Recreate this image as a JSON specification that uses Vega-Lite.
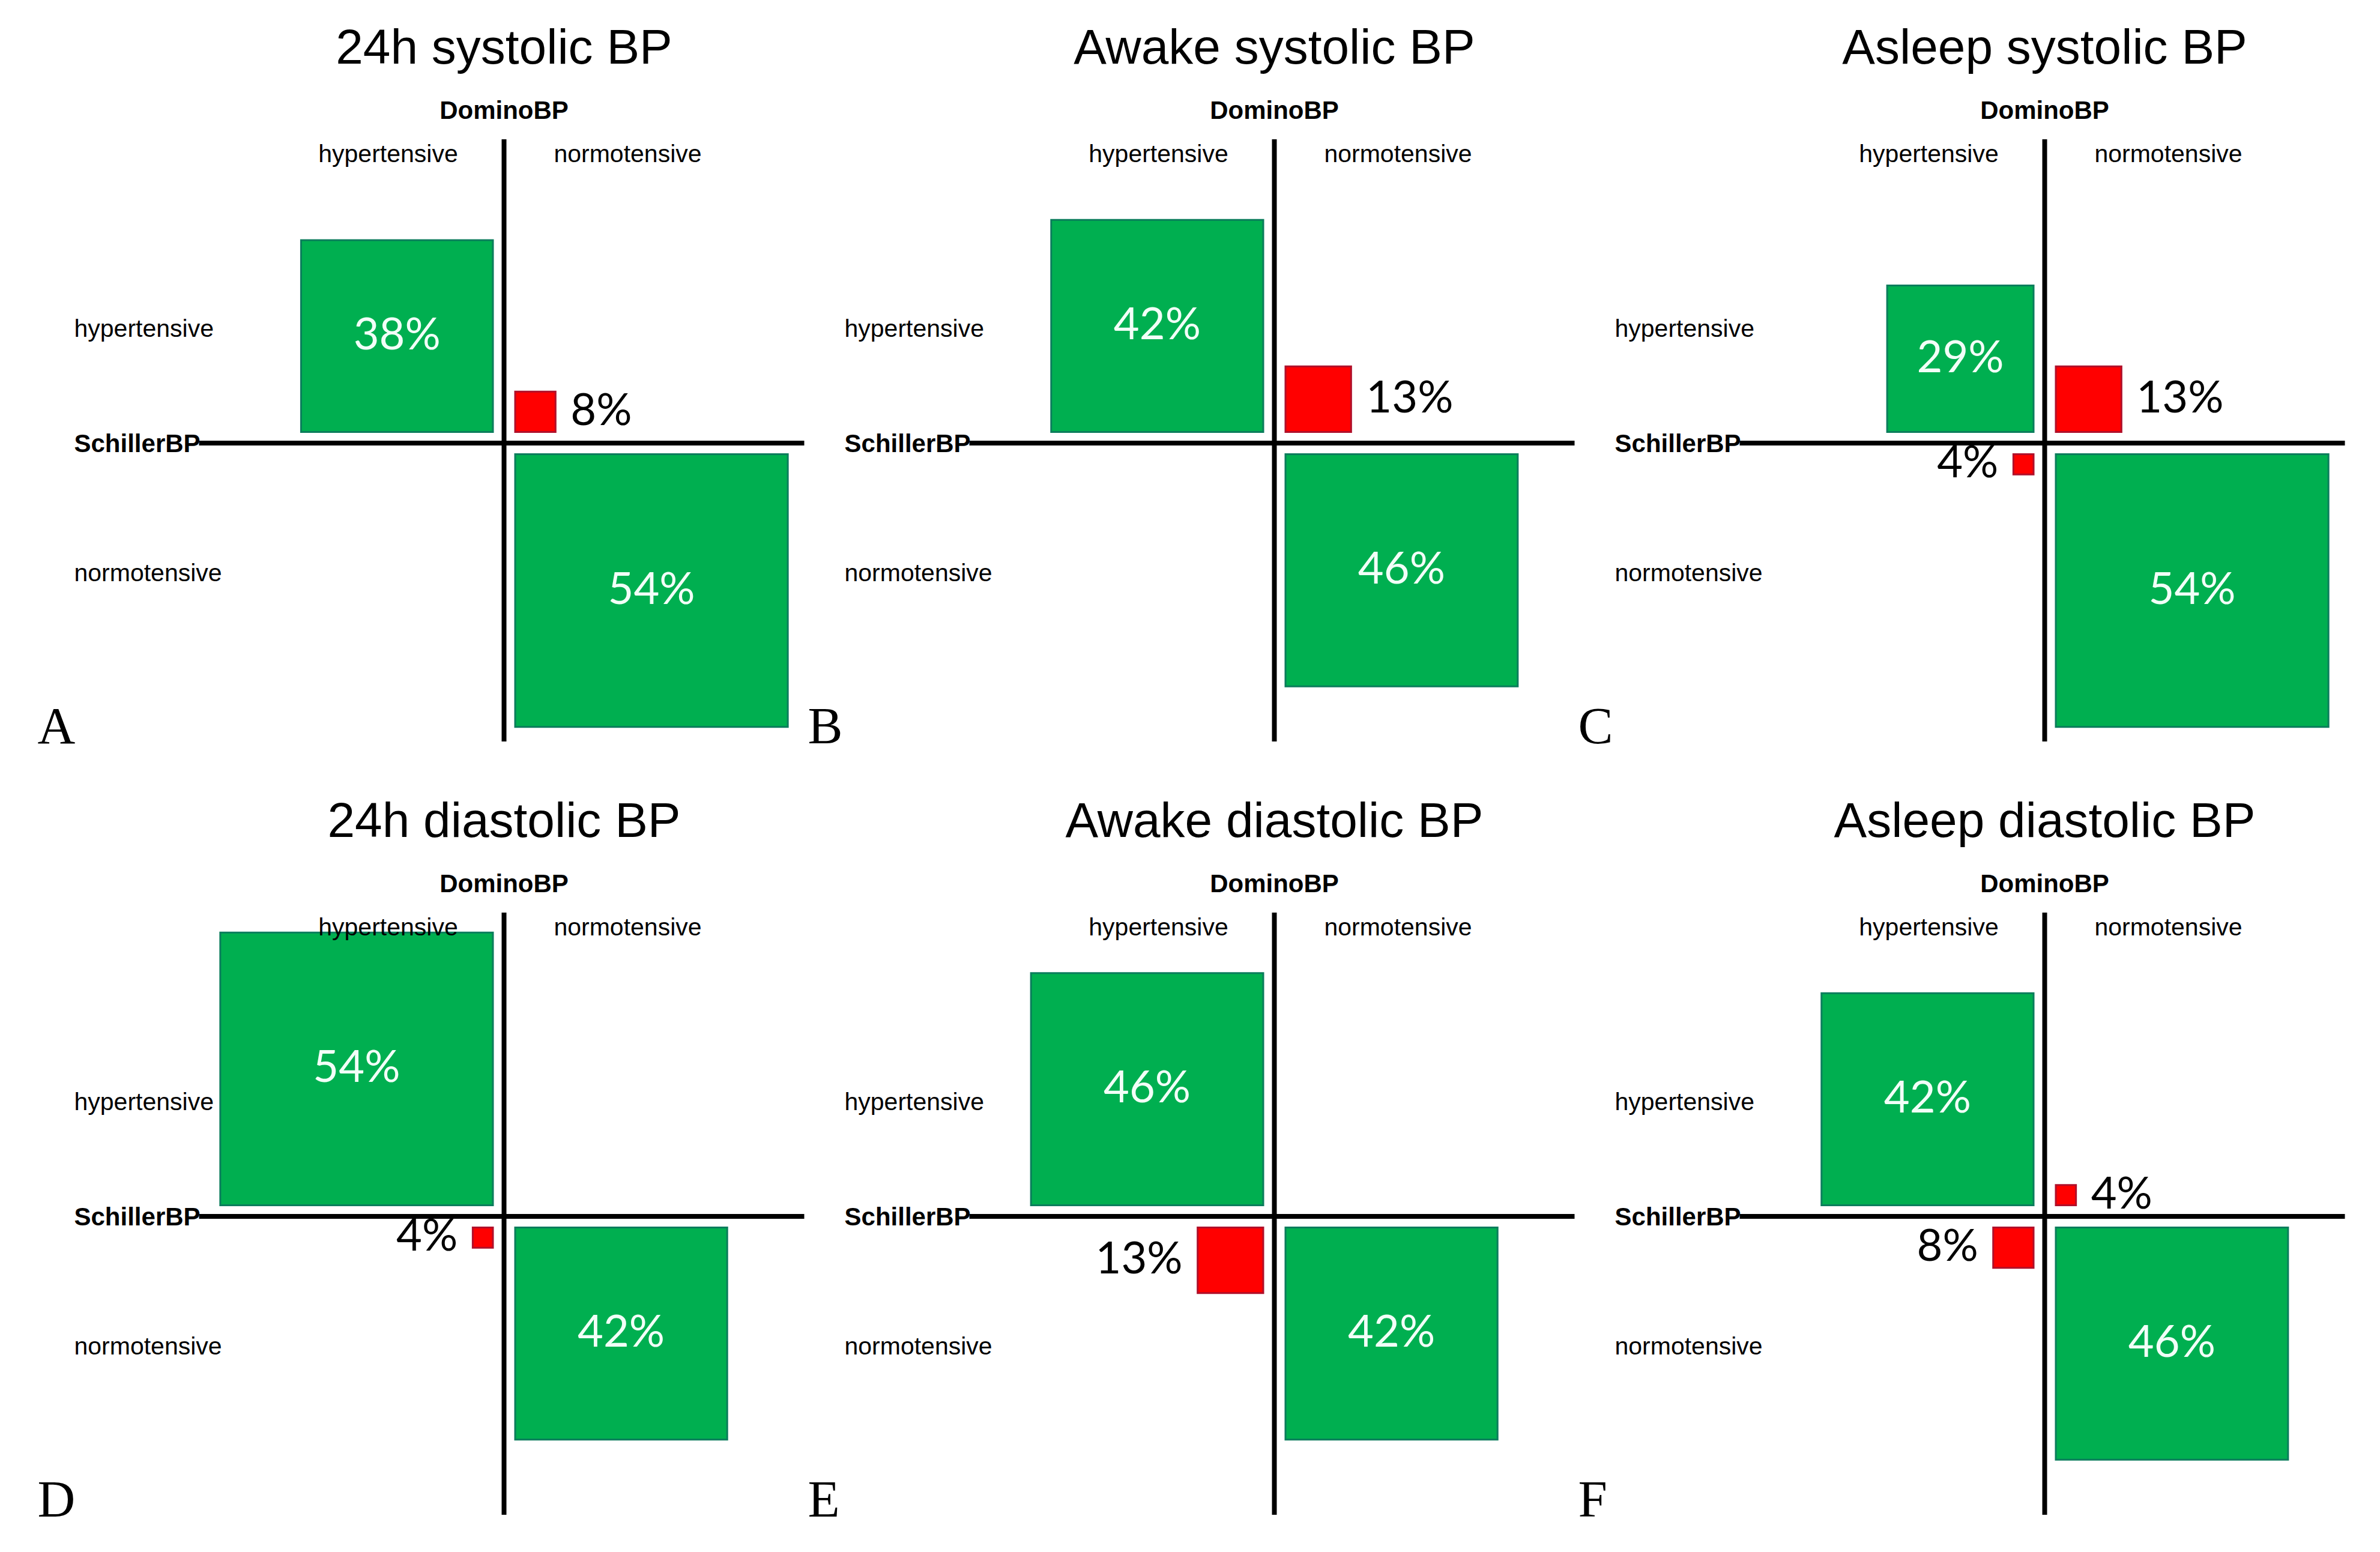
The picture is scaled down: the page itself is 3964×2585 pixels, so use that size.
{
  "$schema": "https://vega.github.io/schema/vega-lite/v6.json",
  "padding": {"left": 62, "top": 40, "right": 0, "bottom": 0},
  "bounds": "flush",
  "config": {"view": {"stroke": null}},
  "data": {"values": [
    {"panel": "A", "title": "24h systolic BP", "domino": "hypertensive", "schiller": "hypertensive", "share": 0.38},
    {"panel": "A", "title": "24h systolic BP", "domino": "normotensive", "schiller": "hypertensive", "share": 0.08},
    {"panel": "A", "title": "24h systolic BP", "domino": "normotensive", "schiller": "normotensive", "share": 0.54},
    {"panel": "B", "title": "Awake systolic BP", "domino": "hypertensive", "schiller": "hypertensive", "share": 0.42},
    {"panel": "B", "title": "Awake systolic BP", "domino": "normotensive", "schiller": "hypertensive", "share": 0.13},
    {"panel": "B", "title": "Awake systolic BP", "domino": "normotensive", "schiller": "normotensive", "share": 0.46},
    {"panel": "C", "title": "Asleep systolic BP", "domino": "hypertensive", "schiller": "hypertensive", "share": 0.29},
    {"panel": "C", "title": "Asleep systolic BP", "domino": "normotensive", "schiller": "hypertensive", "share": 0.13},
    {"panel": "C", "title": "Asleep systolic BP", "domino": "hypertensive", "schiller": "normotensive", "share": 0.04},
    {"panel": "C", "title": "Asleep systolic BP", "domino": "normotensive", "schiller": "normotensive", "share": 0.54},
    {"panel": "D", "title": "24h diastolic BP", "domino": "hypertensive", "schiller": "hypertensive", "share": 0.54},
    {"panel": "D", "title": "24h diastolic BP", "domino": "hypertensive", "schiller": "normotensive", "share": 0.04},
    {"panel": "D", "title": "24h diastolic BP", "domino": "normotensive", "schiller": "normotensive", "share": 0.42},
    {"panel": "E", "title": "Awake diastolic BP", "domino": "hypertensive", "schiller": "hypertensive", "share": 0.46},
    {"panel": "E", "title": "Awake diastolic BP", "domino": "hypertensive", "schiller": "normotensive", "share": 0.13},
    {"panel": "E", "title": "Awake diastolic BP", "domino": "normotensive", "schiller": "normotensive", "share": 0.42},
    {"panel": "F", "title": "Asleep diastolic BP", "domino": "hypertensive", "schiller": "hypertensive", "share": 0.42},
    {"panel": "F", "title": "Asleep diastolic BP", "domino": "normotensive", "schiller": "hypertensive", "share": 0.04},
    {"panel": "F", "title": "Asleep diastolic BP", "domino": "hypertensive", "schiller": "normotensive", "share": 0.08},
    {"panel": "F", "title": "Asleep diastolic BP", "domino": "normotensive", "schiller": "normotensive", "share": 0.46}
  ]},
  "facet": {
    "field": "title", "type": "nominal",
    "sort": ["24h systolic BP", "Awake systolic BP", "Asleep systolic BP", "24h diastolic BP", "Awake diastolic BP", "Asleep diastolic BP"],
    "header": {"title": null, "labelFont": "Liberation Sans", "labelFontSize": 82, "labelColor": "#000000", "labelPadding": 10, "labelAnchor": "middle", "labelOrient": "top", "labelLimit": 0}
  },
  "columns": 3,
  "spacing": {"column": 0.01, "row": 138},
  "spec": {
    "width": 1283,
    "height": 1150,
    "resolve": {"scale": {"x": "independent", "y": "independent"}},
    "layer": [
      {
        "transform": [{"filter": "datum.domino === 'hypertensive' && datum.schiller === 'hypertensive'"}],
        "mark": {"type": "rect", "color": "#00AF50", "stroke": "#0B7D5C", "strokeWidth": 3},
        "encoding": {
          "x": {"field": "share", "type": "quantitative", "scale": {"domain": [-0.78478, 0.74078], "reverse": true, "nice": false, "zero": false}, "axis": null},
          "x2": {"datum": 0},
          "y": {"field": "share", "type": "quantitative", "scale": {"domain": [-0.67004, 0.69738], "nice": false, "zero": false}, "axis": null},
          "y2": {"datum": 0}
        }
      },
      {
        "transform": [{"filter": "datum.domino === 'normotensive' && datum.schiller === 'hypertensive'"}],
        "mark": {"type": "rect", "color": "#FF0000", "stroke": "#B0102A", "strokeWidth": 3},
        "encoding": {
          "x": {"field": "share", "type": "quantitative", "scale": {"domain": [-0.78478, 0.74078], "nice": false, "zero": false}, "axis": null},
          "x2": {"datum": 0},
          "y": {"field": "share", "type": "quantitative", "scale": {"domain": [-0.67004, 0.69738], "nice": false, "zero": false}, "axis": null},
          "y2": {"datum": 0}
        }
      },
      {
        "transform": [{"filter": "datum.domino === 'hypertensive' && datum.schiller === 'normotensive'"}],
        "mark": {"type": "rect", "color": "#FF0000", "stroke": "#B0102A", "strokeWidth": 3},
        "encoding": {
          "x": {"field": "share", "type": "quantitative", "scale": {"domain": [-0.78478, 0.74078], "reverse": true, "nice": false, "zero": false}, "axis": null},
          "x2": {"datum": 0},
          "y": {"field": "share", "type": "quantitative", "scale": {"domain": [-0.74138, 0.62604], "reverse": true, "nice": false, "zero": false}, "axis": null},
          "y2": {"datum": 0}
        }
      },
      {
        "transform": [{"filter": "datum.domino === 'normotensive' && datum.schiller === 'normotensive'"}],
        "mark": {"type": "rect", "color": "#00AF50", "stroke": "#0B7D5C", "strokeWidth": 3},
        "encoding": {
          "x": {"field": "share", "type": "quantitative", "scale": {"domain": [-0.78478, 0.74078], "nice": false, "zero": false}, "axis": null},
          "x2": {"datum": 0},
          "y": {"field": "share", "type": "quantitative", "scale": {"domain": [-0.74138, 0.62604], "reverse": true, "nice": false, "zero": false}, "axis": null},
          "y2": {"datum": 0}
        }
      },
      {
        "transform": [{"filter": "datum.domino === 'hypertensive' && datum.schiller === 'hypertensive'"}],
        "mark": {"type": "text", "font": "Lato", "fontSize": 74, "color": "#F2FFF8", "align": "center", "baseline": "middle"},
        "encoding": {
          "text": {"field": "share", "type": "quantitative", "format": ".0%"},
          "x": {"field": "share", "type": "quantitative", "scale": {"domain": [-1.56956, 1.48156], "reverse": true, "nice": false, "zero": false}, "axis": null},
          "y": {"field": "share", "type": "quantitative", "scale": {"domain": [-1.34008, 1.39476], "nice": false, "zero": false}, "axis": null}
        }
      },
      {
        "transform": [{"filter": "datum.domino === 'normotensive' && datum.schiller === 'normotensive'"}],
        "mark": {"type": "text", "font": "Lato", "fontSize": 74, "color": "#F2FFF8", "align": "center", "baseline": "middle"},
        "encoding": {
          "text": {"field": "share", "type": "quantitative", "format": ".0%"},
          "x": {"field": "share", "type": "quantitative", "scale": {"domain": [-1.56956, 1.48156], "nice": false, "zero": false}, "axis": null},
          "y": {"field": "share", "type": "quantitative", "scale": {"domain": [-1.48276, 1.25208], "reverse": true, "nice": false, "zero": false}, "axis": null}
        }
      },
      {
        "transform": [{"filter": "datum.domino === 'normotensive' && datum.schiller === 'hypertensive'"}],
        "mark": {"type": "text", "font": "Lato", "fontSize": 74, "color": "#000000", "align": "left", "baseline": "middle", "dx": 25},
        "encoding": {
          "text": {"field": "share", "type": "quantitative", "format": ".0%"},
          "x": {"field": "share", "type": "quantitative", "scale": {"domain": [-0.78478, 0.74078], "nice": false, "zero": false}, "axis": null},
          "y": {"field": "share", "type": "quantitative", "scale": {"domain": [-1.34008, 1.39476], "nice": false, "zero": false}, "axis": null}
        }
      },
      {
        "transform": [{"filter": "datum.domino === 'hypertensive' && datum.schiller === 'normotensive'"}],
        "mark": {"type": "text", "font": "Lato", "fontSize": 74, "color": "#000000", "align": "right", "baseline": "middle", "dx": -25},
        "encoding": {
          "text": {"field": "share", "type": "quantitative", "format": ".0%"},
          "x": {"field": "share", "type": "quantitative", "scale": {"domain": [-0.78478, 0.74078], "reverse": true, "nice": false, "zero": false}, "axis": null},
          "y": {"field": "share", "type": "quantitative", "scale": {"domain": [-1.48276, 1.25208], "reverse": true, "nice": false, "zero": false}, "axis": null}
        }
      },
      {
        "transform": [{"aggregate": [{"op": "count", "as": "n"}], "groupby": ["panel", "title"]}],
        "layer": [
          {"mark": {"type": "rule", "strokeWidth": 8, "color": "#000000"},
           "encoding": {
             "x": {"datum": 0, "type": "quantitative", "scale": {"domain": [-641.5, 641.5], "nice": false, "zero": false}, "axis": null},
             "y": {"datum": -506, "type": "quantitative", "scale": {"domain": [-605, 545], "reverse": true, "nice": false, "zero": false}, "axis": null},
             "y2": {"datum": 497}
           }},
          {"mark": {"type": "rule", "strokeWidth": 8, "color": "#000000"},
           "encoding": {
             "x": {"datum": -508, "type": "quantitative", "scale": {"domain": [-641.5, 641.5], "nice": false, "zero": false}, "axis": null},
             "x2": {"datum": 500},
             "y": {"datum": 0, "type": "quantitative", "scale": {"domain": [-605, 545], "reverse": true, "nice": false, "zero": false}, "axis": null}
           }},
          {"mark": {"type": "text", "text": "DominoBP", "font": "Liberation Sans", "fontSize": 42, "fontWeight": "bold", "align": "center", "baseline": "alphabetic", "color": "#000000"},
           "encoding": {
             "x": {"datum": 0, "type": "quantitative", "scale": {"domain": [-641.5, 641.5], "nice": false, "zero": false}, "axis": null},
             "y": {"datum": -540, "type": "quantitative", "scale": {"domain": [-605, 545], "reverse": true, "nice": false, "zero": false}, "axis": null}
           }},
          {"mark": {"type": "text", "text": "hypertensive", "font": "Liberation Sans", "fontSize": 41, "align": "center", "baseline": "alphabetic", "color": "#000000"},
           "encoding": {
             "x": {"datum": -193, "type": "quantitative", "scale": {"domain": [-641.5, 641.5], "nice": false, "zero": false}, "axis": null},
             "y": {"datum": -468, "type": "quantitative", "scale": {"domain": [-605, 545], "reverse": true, "nice": false, "zero": false}, "axis": null}
           }},
          {"mark": {"type": "text", "text": "normotensive", "font": "Liberation Sans", "fontSize": 41, "align": "center", "baseline": "alphabetic", "color": "#000000"},
           "encoding": {
             "x": {"datum": 206, "type": "quantitative", "scale": {"domain": [-641.5, 641.5], "nice": false, "zero": false}, "axis": null},
             "y": {"datum": -468, "type": "quantitative", "scale": {"domain": [-605, 545], "reverse": true, "nice": false, "zero": false}, "axis": null}
           }},
          {"mark": {"type": "text", "text": "hypertensive", "font": "Liberation Sans", "fontSize": 41, "align": "left", "baseline": "alphabetic", "color": "#000000"},
           "encoding": {
             "x": {"datum": -716, "type": "quantitative", "scale": {"domain": [-641.5, 641.5], "nice": false, "zero": false}, "axis": null},
             "y": {"datum": -177, "type": "quantitative", "scale": {"domain": [-605, 545], "reverse": true, "nice": false, "zero": false}, "axis": null}
           }},
          {"mark": {"type": "text", "text": "normotensive", "font": "Liberation Sans", "fontSize": 41, "align": "left", "baseline": "alphabetic", "color": "#000000"},
           "encoding": {
             "x": {"datum": -716, "type": "quantitative", "scale": {"domain": [-641.5, 641.5], "nice": false, "zero": false}, "axis": null},
             "y": {"datum": 230, "type": "quantitative", "scale": {"domain": [-605, 545], "reverse": true, "nice": false, "zero": false}, "axis": null}
           }},
          {"mark": {"type": "text", "text": "SchillerBP", "font": "Liberation Sans", "fontSize": 42, "fontWeight": "bold", "align": "left", "baseline": "alphabetic", "color": "#000000"},
           "encoding": {
             "x": {"datum": -716, "type": "quantitative", "scale": {"domain": [-641.5, 641.5], "nice": false, "zero": false}, "axis": null},
             "y": {"datum": 15, "type": "quantitative", "scale": {"domain": [-605, 545], "reverse": true, "nice": false, "zero": false}, "axis": null}
           }},
          {"mark": {"type": "text", "font": "Liberation Serif", "fontSize": 87, "align": "left", "baseline": "alphabetic", "color": "#000000"},
           "encoding": {
             "text": {"field": "panel", "type": "nominal"},
             "x": {"datum": -777, "type": "quantitative", "scale": {"domain": [-641.5, 641.5], "nice": false, "zero": false}, "axis": null},
             "y": {"datum": 500, "type": "quantitative", "scale": {"domain": [-605, 545], "reverse": true, "nice": false, "zero": false}, "axis": null}
           }}
        ]
      }
    ]
  }
}
